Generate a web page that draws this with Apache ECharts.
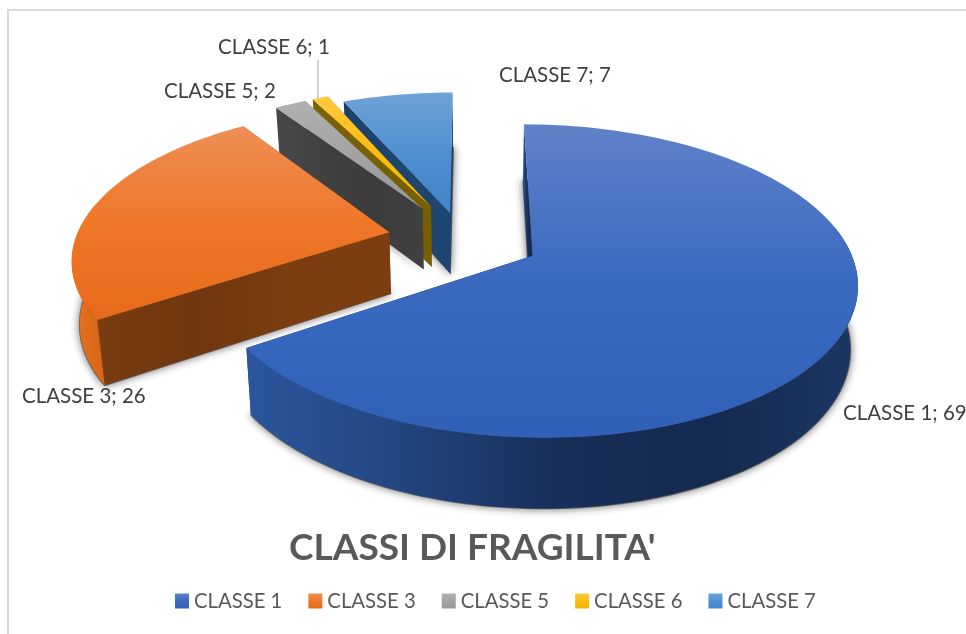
<!DOCTYPE html>
<html>
<head>
<meta charset="utf-8">
<title>Classi di fragilita</title>
<script src="https://cdn.jsdelivr.net/npm/echarts@6/dist/echarts.min.js"></script>
<style>
html,body{margin:0;padding:0;background:#fff;}
#main{width:966px;height:634px;}
</style>
</head>
<body>
<div id="main"></div>
<script>
var categories = ['CLASSE 1','CLASSE 3','CLASSE 5','CLASSE 6','CLASSE 7'];
var values = [69,26,2,1,7];
var explodeX = [61.6,-81.4,-49,-40.5,-20.5];   // stacco di ogni fetta
var explodeY = [33.2,-16.4,-68.6,-74,-58.7];
var drawOrder = [4,3,2,1,0];                   // dal fondo verso chi guarda
var labelPos = [[843,413],[22,396],[164,91],[218,47],[499,75]];
var topColors = [['#5F82C9','#3A69C0','#3060B8'],['#EE8E55','#EF7728','#E86A1A'],['#B0B0B0','#A3A3A3','#989898'],['#FFC93F','#FBBD12','#F2B600'],['#6FA3D8','#4F90D0','#4084C8']];
var wallColors = [['#2B549C','#1B3768','#14294F','#1A3360'],['#7A3C10','#70360E','#7C3E11','#7C3E11'],['#484848','#404040','#3C3C3C','#404040'],['#7F6400','#786000','#786000','#786000'],['#1B3F66','#1E4470','#1E4470','#1E4470']];
var outerColors = [['#2B569E','#224680','#182F5A','#14294F','#1C3763'],['#E8761F','#DE6C1A','#D46516'],['#8C8C8C','#8C8C8C'],['#C89600','#C89600'],['#33699F','#33699F']];

var cx = 470, cy = 240, R = 314, k = 0.47, D = 1990, H = 63;
var total = values.reduce(function(a,b){return a+b;},0);

function grad(cols, horizontal){
    var stops = cols.map(function(c,i){ return {offset:i/(cols.length-1), color:c}; });
    return horizontal ? new echarts.graphic.LinearGradient(0,0,1,0,stops) : new echarts.graphic.LinearGradient(0,0,0,1,stops);
}
// proiezione prospettica: a = angolo (0 in alto, senso orario), r = raggio, z = 0 sopra, 1 sotto
function project(a, r, z, idx){
    var x = r*Math.sin(a) + explodeX[idx];
    var y = -r*Math.cos(a) + explodeY[idx];
    var s = (1/(1 - y/D))*(1 - 0.02*z);
    return [cx + x*s, cy + (y*k + z*H)*s];
}
function sliceStart(idx){
    var sum = 0;
    for(var i=0;i<idx;i++){ sum += values[i]; }
    return sum/total*Math.PI*2;
}
// allarga la base della fetta per l'ombra
function grow(points, px){
    var mx = 0, my = 0;
    points.forEach(function(p){ mx += p[0]; my += p[1]; });
    mx /= points.length; my /= points.length;
    return points.map(function(p){
        var dx = p[0]-mx, dy = p[1]-my, len = Math.sqrt(dx*dx+dy*dy) || 1;
        return [p[0]+dx/len*px, p[1]+dy/len*px];
    });
}
function renderSlice(idx, api){
    var val = api.value(0);
    var a0 = sliceStart(idx), a1 = a0 + val/total*Math.PI*2;
    var topArc = [], botArc = [], frontTop = [], frontBot = [];
    var steps = Math.max(4, Math.ceil((a1-a0)/0.03));
    for(var i=0;i<=steps;i++){
        var a = a0 + (a1-a0)*i/steps;
        topArc.push(project(a,R,0,idx));
        botArc.push(project(a,R,1,idx));
        if(Math.cos(a) <= 0.2){          // solo la parte rivolta verso chi guarda
            frontTop.push(topArc[i]);
            frontBot.push(botArc[i]);
        }
    }
    var apexT = project(0,0,0,idx), apexB = project(0,0,1,idx);
    var wallFill = grad(wallColors[idx], true);
    var children = [
        {type:'polygon', shape:{points:grow([apexB].concat(botArc), 1)}, style:{fill:'rgba(60,60,60,0.7)', shadowBlur:9, shadowColor:'rgba(40,40,40,0.95)'}},
        {type:'polygon', shape:{points:[apexT, topArc[steps], botArc[steps], apexB]}, style:{fill:wallFill}},
        {type:'polygon', shape:{points:[apexT, topArc[0], botArc[0], apexB]}, style:{fill:wallFill}}
    ];
    if(frontTop.length > 1){
        children.push({type:'polygon', shape:{points:frontTop.concat(frontBot.slice().reverse())}, style:{fill:grad(outerColors[idx], true)}});
    }
    children.push({type:'polygon', shape:{points:[apexT].concat(topArc)}, style:{fill:grad(topColors[idx], false)}});
    if(categories[idx] === 'CLASSE 6'){
        children.push({type:'line', shape:{x1:318,y1:60,x2:318,y2:98}, style:{stroke:'#A6A6A6',lineWidth:1}});
    }
    children.push({type:'text', style:{
        x:labelPos[idx][0], y:labelPos[idx][1], text:categories[idx]+'; '+val,
        fill:'#404040', font:'20.5px Lato', textAlign:'left', textVerticalAlign:'middle'
    }});
    return {type:'group', children:children};
}

var series = drawOrder.map(function(idx){
    return {
        type:'custom',
        name:categories[idx],
        coordinateSystem:'none',
        silent:true,
        animation:false,
        itemStyle:{color:grad(topColors[idx], false)},
        data:[[values[idx]]],
        renderItem:function(params, api){ return renderSlice(idx, api); }
    };
});

var myChart = echarts.init(document.getElementById('main'));
var option = {
    backgroundColor:'#fff',
    animation:false,
    title:{
        text:"CLASSI DI FRAGILITA'",
        left:284, top:525,
        textStyle:{color:'#595959', fontFamily:'Lato', fontWeight:'bold', fontSize:37}
    },
    legend:{
        data:categories,
        top:586, left:170,
        icon:'rect', itemWidth:14, itemHeight:15, itemGap:26,
        selectedMode:false,
        textStyle:{color:'#595959', fontFamily:'Lato', fontSize:20.3}
    },
    graphic:[{
        type:'rect', z:-1, silent:true,
        shape:{x:8,y:10,width:1000,height:660},
        style:{fill:'#fff',stroke:'#D9D9D9',lineWidth:2}
    }],
    series:series
};
myChart.setOption(option);
</script>
</body>
</html>
